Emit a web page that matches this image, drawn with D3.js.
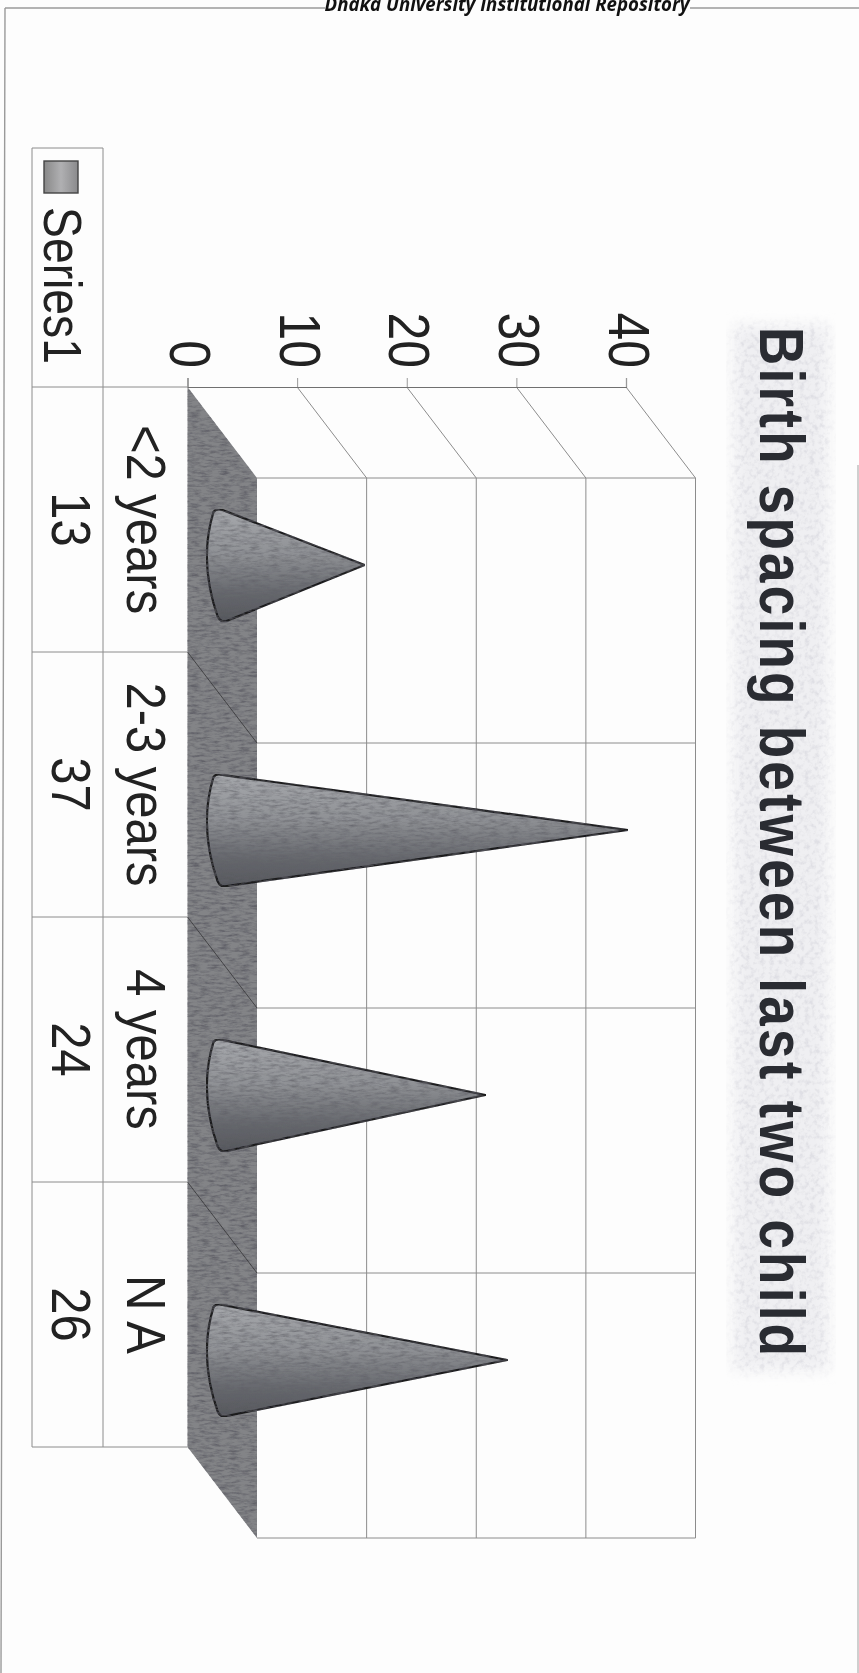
<!DOCTYPE html>
<html><head><meta charset="utf-8">
<script src="https://cdn.jsdelivr.net/npm/d3@7/dist/d3.min.js"></script>
<style>html,body{margin:0;padding:0;background:#fdfdfd}svg{display:block;filter:blur(0.5px)}text{font-family:"Liberation Sans",Arial,sans-serif;fill:#222}</style>
</head><body><svg id="c" width="859" height="1673"></svg>
<script>
const categories = ["<2 years","2-3 years","4 years","N A"];
const values = [13,37,24,26];
const valueTicks = [0,10,20,30,40];
const seriesName = "Series1";
const chartTitle = "Birth spacing between last two child";
const header = "Dhaka University Institutional Repository";

const svg=d3.select("#c");
const defs=svg.append("defs");
const frontTop=387, frontBottom=1447, tableLeft=32, tableMid=103, legendTop=148;
const depthX=69.5, depthY=91;
const x=d3.scaleLinear().domain([0,40]).range([187.5,626]);
const y=d3.scaleBand().domain(categories).range([frontTop,frontBottom]);

// textures
function grainFilter(id,slope,offset){
  const f=defs.append("filter").attr("id",id).attr("x",0).attr("y",0).attr("width","100%").attr("height","100%");
  f.append("feTurbulence").attr("type","fractalNoise").attr("baseFrequency","0.1 0.4").attr("numOctaves",4).attr("seed",4).attr("result","n");
  f.append("feColorMatrix").attr("in","n").attr("type","matrix").attr("values",`0 0 0 0 0.12  0 0 0 0 0.12  0 0 0 0 0.14  ${slope} 0 0 0 ${offset}`).attr("result","a");
  f.append("feComposite").attr("in","a").attr("in2","SourceAlpha").attr("operator","in").attr("result","m");
  f.append("feMerge").selectAll("feMergeNode").data(["SourceGraphic","m"]).join("feMergeNode").attr("in",d=>d);
}
grainFilter("grain",2.2,-0.85);
grainFilter("grainCone",1.5,-0.58);

const speck=defs.append("filter").attr("id","speck").attr("x","-8%").attr("y","-2%").attr("width","116%").attr("height","104%");
speck.append("feTurbulence").attr("type","fractalNoise").attr("baseFrequency","0.2").attr("numOctaves",3).attr("seed",9).attr("result","n");
speck.append("feColorMatrix").attr("in","n").attr("type","matrix").attr("values","0 0 0 0 0.74  0 0 0 0 0.74  0 0 0 0 0.78  3 0 0 0 -1.35").attr("result","a");
speck.append("feGaussianBlur").attr("in","SourceGraphic").attr("stdDeviation",7).attr("result","b");
speck.append("feComposite").attr("in","a").attr("in2","b").attr("operator","in").attr("result","m");
speck.append("feMerge").selectAll("feMergeNode").data(["b","m"]).join("feMergeNode").attr("in",d=>d);

const grad=defs.append("linearGradient").attr("id","cone").attr("x1",0).attr("y1",0).attr("x2",0).attr("y2",1);
[[0,"#a6a8ac"],[0.4,"#8f9195"],[0.75,"#66686d"],[1,"#55575c"]].forEach(s=>grad.append("stop").attr("offset",s[0]).attr("stop-color",s[1]));
const key=defs.append("linearGradient").attr("id","key").attr("x1",0).attr("y1",0).attr("x2",1).attr("y2",0);
[[0,"#888"],[0.5,"#b0b0b2"],[1,"#8a8a8c"]].forEach(s=>key.append("stop").attr("offset",s[0]).attr("stop-color",s[1]));

// page frame and header
const frame=svg.append("g").attr("fill","none").attr("stroke","#9a9a9a").attr("stroke-width",1.4);
frame.append("path").attr("d","M5 8 L4 400 L1 1673");
frame.append("path").attr("d","M5 8 H325 M690 8 H859");
frame.append("path").attr("d","M858 465 V1673").attr("stroke","#bbb");
svg.append("text").attr("x",507).attr("y",10.5).attr("text-anchor","middle")
  .attr("textLength",365).attr("lengthAdjust","spacingAndGlyphs")
  .style("font-family","'Open Sans'").style("font-weight",700).style("font-style","italic").style("font-size","19.5px").style("fill","#111").text(header);

// title
svg.append("rect").attr("x",734).attr("y",326).attr("width",94).attr("height",1044).attr("fill","#efeff2").attr("filter","url(#speck)");
svg.append("text").attr("transform","translate(760,327) rotate(90) scale(1,1.17)")
  .attr("textLength",1029).attr("lengthAdjust","spacing")
  .style("font-weight",700).style("font-size","53px").style("fill","#2a2c32").text(chartTitle);

// floor
const x0=x(0);
const edgeY=[...categories.map(c=>y(c)),frontBottom];
svg.append("path").attr("fill","#838487").attr("filter","url(#grain)")
  .attr("d",d3.line()([[x0,frontTop],[x0+depthX,frontTop+depthY],[x0+depthX,frontBottom+depthY],[x0,frontBottom]])+"Z");
svg.append("g").attr("stroke","#3c3c3e").attr("stroke-width",0.9).selectAll("line").data(edgeY.slice(1,-1)).join("line")
  .attr("x1",x0).attr("y1",d=>d).attr("x2",x0+depthX).attr("y2",d=>d+depthY);

// walls
const grid=svg.append("g").attr("stroke","#8c8c8c").attr("stroke-width",1).attr("fill","none");
grid.selectAll(".v").data(valueTicks.slice(1)).join("line").attr("class","v")
  .attr("x1",d=>x(d)+depthX).attr("x2",d=>x(d)+depthX).attr("y1",frontTop+depthY).attr("y2",frontBottom+depthY);
grid.selectAll(".h").data(edgeY).join("line").attr("class","h")
  .attr("x1",x0+depthX).attr("x2",x(40)+depthX).attr("y1",d=>d+depthY).attr("y2",d=>d+depthY);
grid.selectAll(".d").data(valueTicks.slice(1)).join("line").attr("class","d")
  .attr("x1",d=>x(d)).attr("x2",d=>x(d)+depthX).attr("y1",frontTop).attr("y2",frontTop+depthY);

// value axis
const axis=svg.append("g").attr("transform",`translate(0,${frontTop})`)
  .call(d3.axisTop(x).tickValues(valueTicks).tickSize(9).tickPadding(0));
axis.select(".domain").attr("stroke","#707070").attr("stroke-width",1.2);
axis.selectAll(".tick line").attr("stroke","#999");
axis.selectAll(".tick text").attr("transform",`translate(-18,${368-frontTop}) rotate(90) scale(1,1.13)`)
  .attr("x",0).attr("y",0).attr("dy",0).attr("text-anchor","end")
  .style("font-size","50px").style("font-family","'Liberation Sans'").style("fill","#222");

// data table
const table=svg.append("g").attr("stroke","#8c8c8c").attr("stroke-width",1).attr("fill","none");
[tableLeft,tableMid].forEach(v=>table.append("line").attr("x1",v).attr("x2",v).attr("y1",legendTop).attr("y2",frontBottom));
table.append("line").attr("x1",tableLeft).attr("x2",tableMid).attr("y1",legendTop).attr("y2",legendTop);
table.selectAll(".r").data(edgeY).join("line").attr("class","r").attr("x1",tableLeft).attr("x2",x0).attr("y1",d=>d).attr("y2",d=>d);

const rot=(px,py)=>`translate(${px},${py}) rotate(90) scale(1,1.13)`;
svg.selectAll(".cat").data(categories).join("text").attr("class","cat")
  .attr("transform",d=>rot(127,y(d)+y.bandwidth()/2)).attr("text-anchor","middle").style("font-size","49px").text(d=>d);
svg.selectAll(".val").data(values).join("text").attr("class","val")
  .attr("transform",(d,i)=>rot(52,y(categories[i])+y.bandwidth()/2)).attr("text-anchor","middle").style("font-size","49px").text(d=>d);

// legend
svg.append("rect").attr("x",44).attr("y",161).attr("width",34).attr("height",32).attr("fill","url(#key)").attr("stroke","#444").attr("stroke-width",1.4);
svg.append("text").attr("transform","translate(44,207) rotate(90) scale(1,1.13)").attr("textLength",157).attr("lengthAdjust","spacingAndGlyphs").style("font-size","48px").text(seriesName);

// cones
const conePath=(v,c)=>{
  const cy=y(c)+y.bandwidth()/2+depthY/2;
  const tx=x(v)+depthX/2;
  return `M${tx},${cy}L${x0+35},${cy-55}Q${x0+29},${cy-57} ${x0+26},${cy-53}`
    +`Q${x0+11},${cy-4} ${x0+30},${cy+51}Q${x0+33},${cy+58} ${x0+39},${cy+56}Z`;
};
svg.selectAll(".cone").data(values).join("path").attr("class","cone")
  .attr("d",(d,i)=>conePath(d,categories[i]))
  .attr("fill","url(#cone)").attr("filter","url(#grainCone)")
  .attr("stroke","#1b1b1e").attr("stroke-width",2.2).attr("stroke-linejoin","round");
</script></body></html>
